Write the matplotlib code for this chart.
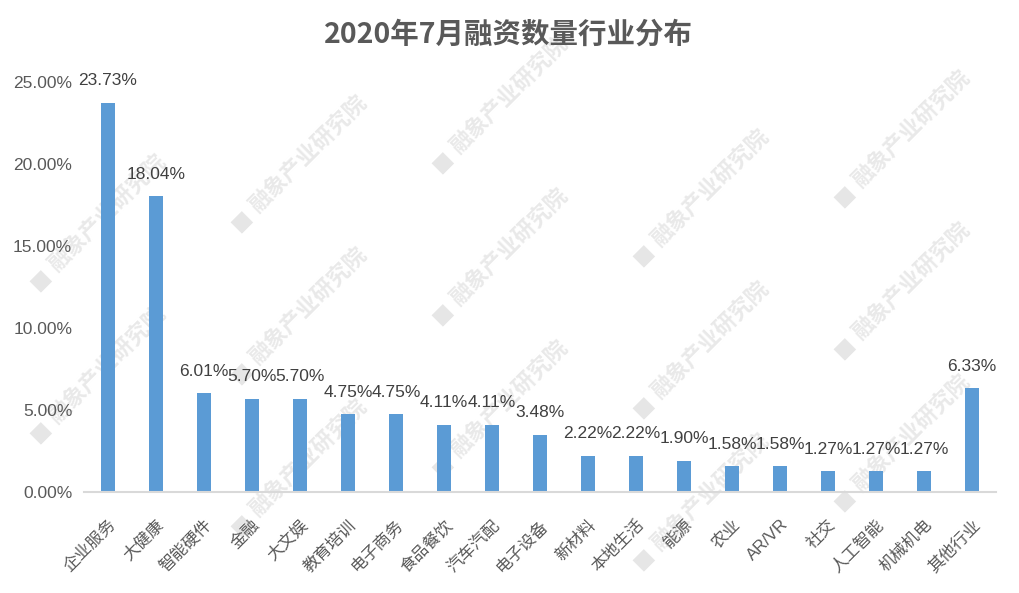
import matplotlib
matplotlib.use("Agg")
import matplotlib.pyplot as plt
from matplotlib.ticker import FuncFormatter

categories = ["企业服务", "大健康", "智能硬件", "金融", "大文娱", "教育培训", "电子商务",
              "食品餐饮", "汽车汽配", "电子设备", "新材料", "本地生活", "能源", "农业",
              "AR/VR", "社交", "人工智能", "机械机电", "其他行业"]
values = [23.73, 18.04, 6.01, 5.70, 5.70, 4.75, 4.75, 4.11, 4.11, 3.48,
          2.22, 2.22, 1.90, 1.58, 1.58, 1.27, 1.27, 1.27, 6.33]
yticks = [0, 5, 10, 15, 20, 25]
title = "2020年7月融资数量行业分布"
watermark = "融象产业研究院"

W, H = 1019, 593
fig = plt.figure(figsize=(W / 100, H / 100), dpi=100)
ax = fig.add_axes([84 / W, 1 - 492 / H, (996 - 84) / W, (492 - 82) / H])
ax.set_facecolor("none")

num_font = ["Liberation Sans", "Noto Sans CJK SC", "DejaVu Sans"]
cjk_font = ["Noto Sans CJK SC", "DejaVu Sans"]

# watermarks (only those fully inside the picture)
for i in range(-3, 4):
    for j in range(-2, 6):
        lx = 442 + 201 * i
        ly = 162 - 59 * i + 152 * j
        if 5 < lx < W - 150 and 150 < ly < H - 20:
            fig.text((lx + 12) / W, 1 - (ly - 12) / H, watermark, rotation=45,
                     rotation_mode="anchor", ha="left", va="center",
                     fontsize=16, fontweight="bold", color="#e9e9e9",
                     family=cjk_font, zorder=-5)
            fig.text((lx) / W, 1 - (ly) / H, "\u25A0", rotation=45,
                     rotation_mode="anchor", ha="center", va="center",
                     fontsize=15, color="#e6e6e6", family=["DejaVu Sans"], zorder=-5)

x = list(range(len(categories)))
bars = ax.bar(x, values, width=0.31, color="#5B9BD5", zorder=2)
ax.set_xlim(-0.5, len(categories) - 0.5)
ax.set_ylim(0, 25)
ax.set_yticks(yticks)
ax.yaxis.set_major_formatter(FuncFormatter(lambda v, p: f"{v:.2f}%"))
for lab in ax.get_yticklabels():
    lab.set_family(num_font)
    lab.set_fontsize(12.5)
    lab.set_color("#595959")
ax.tick_params(axis="y", length=0, pad=8.5)
ax.tick_params(axis="x", length=0)

ax.set_xticks(x)
ax.set_xticklabels(categories, rotation=45, ha="right", va="top",
                   rotation_mode="anchor", fontsize=12, color="#595959",
                   family=num_font)
ax.tick_params(axis="x", pad=18)

for s in ["top", "right", "left"]:
    ax.spines[s].set_visible(False)
ax.spines["bottom"].set_color("#d9d9d9")
ax.spines["bottom"].set_linewidth(1.5)

for xi, v in zip(x, values):
    ax.annotate(f"{v:.2f}%", (xi, v), xytext=(0, 10.5), textcoords="offset points",
                ha="center", va="bottom", fontsize=12.5, color="#404040",
                family=num_font)

fig.text(508 / W, 1 - 35 / H, title, ha="center", va="center", fontsize=20.5,
         fontweight="bold", color="#595959", family=["Noto Sans CJK SC", "DejaVu Sans"])

fig.savefig("out.png", dpi=100, facecolor="white")
